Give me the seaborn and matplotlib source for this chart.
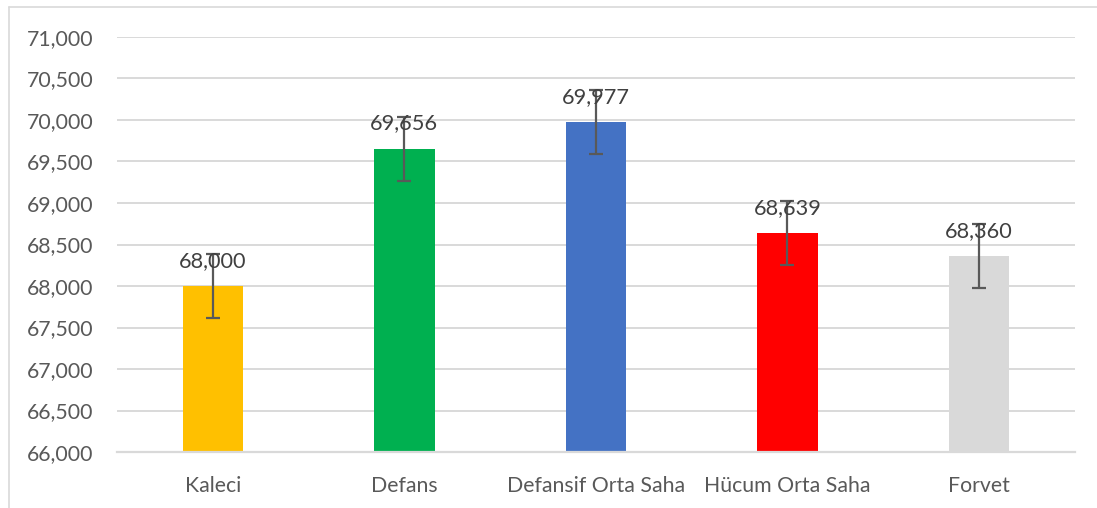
import matplotlib
matplotlib.use("Agg")
import matplotlib.pyplot as plt
from matplotlib.lines import Line2D
import seaborn as sns
import pandas as pd

# chart values
positions = ["Kaleci", "Defans", "Defansif Orta Saha", "Hücum Orta Saha", "Forvet"]
means = [68.000, 69.656, 69.977, 68.639, 68.360]
errors = [0.385, 0.385, 0.385, 0.385, 0.385]
bar_colors = ["#FFC000", "#00B050", "#4472C4", "#FF0000", "#D9D9D9"]
y_ticks = [66.0, 66.5, 67.0, 67.5, 68.0, 68.5, 69.0, 69.5, 70.0, 70.5, 71.0]

df = pd.DataFrame({"Mevki": positions, "Ortalama": means})

sns.set_style("white")
plt.rcParams["font.family"] = ["Lato", "DejaVu Sans"]

text_grey = "#595959"
fig = plt.figure(figsize=(10.97, 5.08), dpi=100)
ax = fig.add_axes([0.1067, 0.1102, 0.873, 0.817])

sns.barplot(data=df, x="Mevki", y="Ortalama", hue="Mevki", palette=bar_colors,
            width=0.315, saturation=1, errorbar=None, legend=False, ax=ax,
            linewidth=0, zorder=2)

xs = range(len(positions))
ax.errorbar(xs, means, yerr=errors, fmt="none", ecolor=text_grey,
            elinewidth=1.6, capsize=4.8, capthick=1.6, zorder=3)

for x, m in zip(xs, means):
    ax.annotate(f"{m:.3f}".replace(".", ","), (x, m), xytext=(0, 11),
                textcoords="offset points", ha="center", va="bottom",
                fontsize=15.7, color="#404040", zorder=4)

ax.set_ylim(66, 71)
ax.set_yticks(y_ticks)
ax.set_yticklabels([f"{v:.3f}".replace(".", ",") for v in y_ticks])
ax.set_xlim(-0.5, len(positions) - 0.5)
ax.yaxis.grid(True, color="#D9D9D9", linewidth=1.4, zorder=0)
ax.set_axisbelow(True)
ax.set_xlabel("")
ax.set_ylabel("")
for s in ["top", "right", "left"]:
    ax.spines[s].set_visible(False)
ax.spines["bottom"].set_color("#D9D9D9")
ax.spines["bottom"].set_linewidth(1.6)
ax.tick_params(axis="both", length=0, labelsize=15.3, colors=text_grey)
ax.tick_params(axis="x", pad=17)
ax.tick_params(axis="y", pad=17)

# chart area border (top and left edges visible)
fig.add_artist(Line2D([9 / 1097, 1], [1 - 7 / 508, 1 - 7 / 508],
                      color="#D9D9D9", linewidth=1.2))
fig.add_artist(Line2D([9 / 1097, 9 / 1097], [0, 1 - 7 / 508],
                      color="#D9D9D9", linewidth=1.2))

fig.savefig("out.png", dpi=100)
